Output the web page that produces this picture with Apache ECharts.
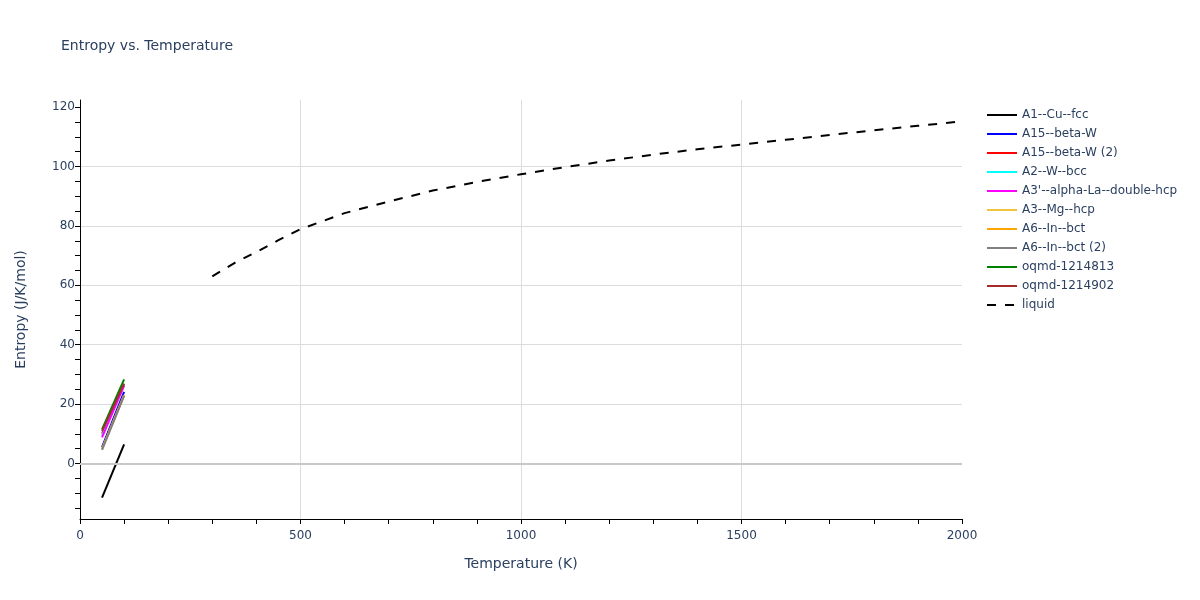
<!DOCTYPE html>
<html>
<head>
<meta charset="utf-8">
<script src="https://cdn.jsdelivr.net/npm/echarts@6/dist/echarts.min.js"></script>
<style>html,body{margin:0;padding:0;background:#fff;}#c{width:1200px;height:600px;}</style>
</head>
<body>
<div id="c"></div>
<script>
// ---- data ----
const phaseNames = ["A1--Cu--fcc","A15--beta-W","A15--beta-W (2)","A2--W--bcc","A3'--alpha-La--double-hcp","A3--Mg--hcp","A6--In--bct","A6--In--bct (2)","oqmd-1214813","oqmd-1214902"];
const phaseColors = ["#000000","#0000ff","#ff0000","#00ffff","#ff00ff","#f0c43c","#ffa500","#808080","#008000","#a52a2a"];
const phaseT = [50, 100];
const phaseS = [
  [-11.5, 6.4],
  [5.5, 24.1],
  [10.0, 26.6],
  [9.3, 26.4],
  [8.8, 26.2],
  [4.8, 23.0],
  [4.8, 23.0],
  [4.6, 22.8],
  [11.5, 28.3],
  [10.9, 26.9]
];
const liquidT = [300,350,400,450,500,600,700,800,900,1000,1100,1200,1300,1400,1500,1600,1700,1800,1900,2000];
const liquidS = [63.0,67.5,71.2,75.2,78.9,84.3,88.2,91.9,94.8,97.4,99.8,102.0,104.0,105.8,107.4,109.0,110.6,112.2,113.7,115.2];
const xTickLabels = [0, 500, 1000, 1500, 2000];
const yLabels = [0,20,40,60,80,100,120];
const yMinorTicks = [-15,-10,-5,5,10,15,25,30,35,45,50,55,65,70,75,85,90,95,105,110,115];

const textColor = '#2a3f5f';
const font = '"DejaVu Sans", Verdana, sans-serif';

const series = phaseNames.map((n, i) => ({
  name: n, type: 'line', symbol: 'none',
  data: phaseT.map((t, j) => [t, phaseS[i][j]]),
  lineStyle: { color: phaseColors[i], width: 2 },
  itemStyle: { color: phaseColors[i] },
  z: 3
}));
series.push({
  name: 'liquid', type: 'line', symbol: 'none',
  data: liquidT.map((t, j) => [t, liquidS[j]]),
  lineStyle: { color: '#000000', width: 2, type: [9, 9] },
  itemStyle: { color: '#000000' },
  z: 3
});
series.push({
  name: '_zero', type: 'line', data: [], silent: true,
  markLine: { silent: true, symbol: 'none', label: { show: false }, animation: false,
    lineStyle: { color: '#c8c8c8', width: 2, type: 'solid' },
    data: [{ yAxis: 0 }] },
  z: 1
});

const yRange = { min: -18.7, max: 122.4 };
const chart = echarts.init(document.getElementById('c'));
chart.setOption({
  backgroundColor: '#ffffff',
  animation: false,
  textStyle: { fontFamily: font },
  title: {
    text: 'Entropy vs. Temperature', left: 56, top: 34,
    textStyle: { fontFamily: font, fontSize: 14, fontWeight: 'normal', color: textColor }
  },
  legend: {
    data: phaseNames.concat(['liquid']),
    orient: 'vertical', left: 981, top: 104,
    itemWidth: 30, itemHeight: 14, itemGap: 7,
    itemStyle: { opacity: 0 },
    textStyle: { fontFamily: font, fontSize: 12, color: textColor }
  },
  grid: { left: 80, right: 238, top: 100, bottom: 81, containLabel: false },
  xAxis: {
    type: 'value', min: 0, max: 2000, interval: 500,
    name: 'Temperature (K)', nameLocation: 'middle', nameGap: 38,
    nameTextStyle: { fontFamily: font, fontSize: 14, color: textColor },
    axisLine: { show: true, onZero: false, lineStyle: { color: '#000', width: 1 } },
    axisTick: { show: true, length: 5, lineStyle: { color: '#000' } },
    minorTick: { show: true, splitNumber: 5, length: 5, lineStyle: { color: '#000' } },
    axisLabel: { fontFamily: font, fontSize: 12, color: textColor, margin: 11,
      customValues: xTickLabels, formatter: v => String(v) },
    splitLine: { show: true, showMinLine: false, showMaxLine: false, lineStyle: { color: '#dcdcdc', width: 1 } }
  },
  yAxis: [{
    type: 'value', min: yRange.min, max: yRange.max, splitNumber: 7,
    name: 'Entropy (J/K/mol)', nameLocation: 'middle', nameGap: 52,
    nameTextStyle: { fontFamily: font, fontSize: 14, color: textColor },
    axisLine: { show: true, onZero: false, lineStyle: { color: '#000', width: 1 } },
    axisTick: { show: true, length: 5, customValues: yLabels, lineStyle: { color: '#000' } },
    axisLabel: { fontFamily: font, fontSize: 12, color: textColor, margin: 5, customValues: yLabels },
    splitLine: { show: true, showMinLine: false, showMaxLine: false, lineStyle: { color: '#dcdcdc', width: 1 } }
  }, {
    type: 'value', min: yRange.min, max: yRange.max, position: 'left', offset: 0,
    axisLine: { show: false },
    axisTick: { show: true, length: 5, customValues: yMinorTicks, lineStyle: { color: '#000' } },
    axisLabel: { show: false },
    splitLine: { show: false }
  }],
  series: series
});
</script>
</body>
</html>
